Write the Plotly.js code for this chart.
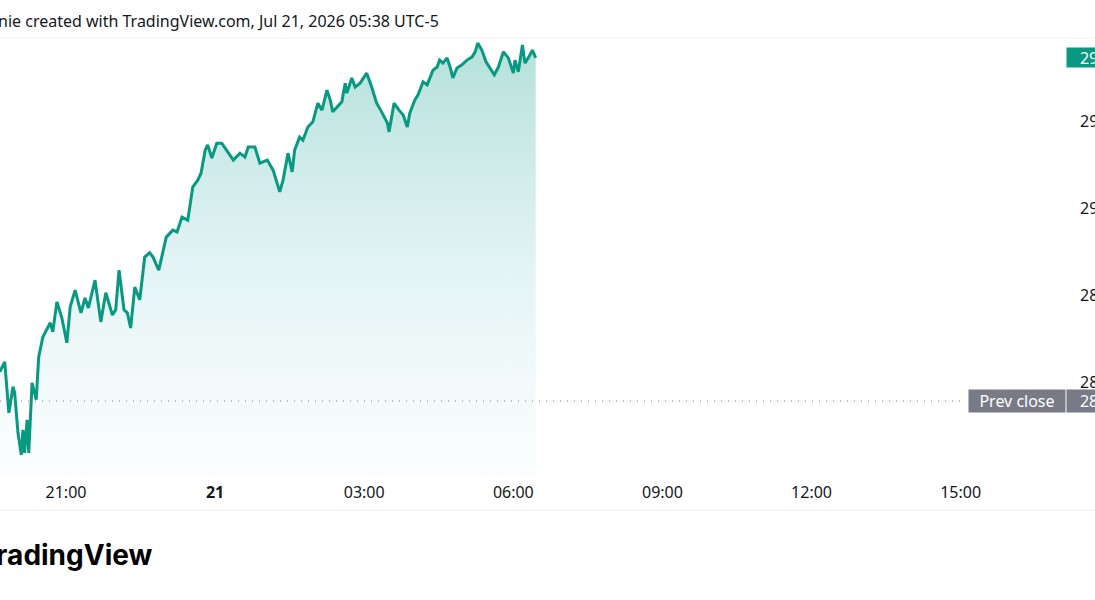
<!DOCTYPE html>
<html>
<head>
<meta charset="utf-8">
<script src="https://cdn.plot.ly/plotly-3.0.1.min.js"></script>
<style>
  html, body { margin: 0; padding: 0; background: #ffffff; overflow: hidden; width: 1095px; height: 600px; }
  #chart { position: absolute; left: -20px; top: 0; width: 1160px; height: 600px; }
</style>
</head>
<body>
<div id="chart"></div>
<script>
// ---- data ----
const times = [
  "2026-07-20 19:40","2026-07-20 19:46","2026-07-20 19:51","2026-07-20 19:56","2026-07-20 19:58",
  "2026-07-20 20:02","2026-07-20 20:06","2026-07-20 20:08","2026-07-20 20:10","2026-07-20 20:13",
  "2026-07-20 20:15","2026-07-20 20:19","2026-07-20 20:24","2026-07-20 20:27","2026-07-20 20:32",
  "2026-07-20 20:35","2026-07-20 20:41","2026-07-20 20:44","2026-07-20 20:49","2026-07-20 20:55",
  "2026-07-20 21:01","2026-07-20 21:05","2026-07-20 21:11","2026-07-20 21:18","2026-07-20 21:23",
  "2026-07-20 21:27","2026-07-20 21:35","2026-07-20 21:42","2026-07-20 21:48","2026-07-20 21:56",
  "2026-07-20 22:00","2026-07-20 22:04","2026-07-20 22:10","2026-07-20 22:14","2026-07-20 22:18",
  "2026-07-20 22:23","2026-07-20 22:29","2026-07-20 22:35","2026-07-20 22:41","2026-07-20 22:45",
  "2026-07-20 22:52","2026-07-20 23:01","2026-07-20 23:09","2026-07-20 23:14","2026-07-20 23:20",
  "2026-07-20 23:27","2026-07-20 23:33","2026-07-20 23:39","2026-07-20 23:43","2026-07-20 23:48",
  "2026-07-20 23:51","2026-07-20 23:56","2026-07-21 00:02","2026-07-21 00:08","2026-07-21 00:16",
  "2026-07-21 00:22","2026-07-21 00:30","2026-07-21 00:36","2026-07-21 00:40","2026-07-21 00:48",
  "2026-07-21 00:54","2026-07-21 01:03","2026-07-21 01:10","2026-07-21 01:18","2026-07-21 01:22",
  "2026-07-21 01:28","2026-07-21 01:33","2026-07-21 01:36","2026-07-21 01:42","2026-07-21 01:46",
  "2026-07-21 01:52","2026-07-21 01:58","2026-07-21 02:04","2026-07-21 02:09","2026-07-21 02:15",
  "2026-07-21 02:19","2026-07-21 02:22","2026-07-21 02:27","2026-07-21 02:33","2026-07-21 02:37",
  "2026-07-21 02:39","2026-07-21 02:45","2026-07-21 02:49","2026-07-21 02:55","2026-07-21 03:03",
  "2026-07-21 03:09","2026-07-21 03:15","2026-07-21 03:21","2026-07-21 03:28","2026-07-21 03:30",
  "2026-07-21 03:36","2026-07-21 03:42","2026-07-21 03:47","2026-07-21 03:52","2026-07-21 03:55",
  "2026-07-21 04:01","2026-07-21 04:05","2026-07-21 04:11","2026-07-21 04:16","2026-07-21 04:23",
  "2026-07-21 04:28","2026-07-21 04:31","2026-07-21 04:35","2026-07-21 04:40","2026-07-21 04:44",
  "2026-07-21 04:47","2026-07-21 04:52","2026-07-21 04:58","2026-07-21 05:04","2026-07-21 05:10",
  "2026-07-21 05:14","2026-07-21 05:17","2026-07-21 05:22","2026-07-21 05:27","2026-07-21 05:32",
  "2026-07-21 05:37","2026-07-21 05:42","2026-07-21 05:48","2026-07-21 05:54","2026-07-21 06:00",
  "2026-07-21 06:02","2026-07-21 06:06","2026-07-21 06:11","2026-07-21 06:14","2026-07-21 06:18",
  "2026-07-21 06:23","2026-07-21 06:27"
];
const prices = [
  28.623,28.646,28.529,28.589,28.575,
  28.483,28.432,28.490,28.437,28.513,
  28.437,28.598,28.559,28.657,28.703,
  28.715,28.736,28.715,28.784,28.747,
  28.690,28.772,28.811,28.759,28.793,
  28.770,28.834,28.738,28.805,28.754,
  28.766,28.857,28.766,28.759,28.724,
  28.818,28.789,28.887,28.897,28.887,
  28.857,28.933,28.949,28.945,28.979,
  28.972,29.048,29.064,29.080,29.133,
  29.145,29.115,29.149,29.149,29.126,
  29.110,29.126,29.117,29.140,29.140,
  29.103,29.110,29.087,29.037,29.064,
  29.126,29.083,29.133,29.163,29.156,
  29.186,29.198,29.241,29.225,29.271,
  29.248,29.221,29.232,29.244,29.287,
  29.264,29.299,29.278,29.287,29.310,
  29.278,29.241,29.221,29.195,29.175,
  29.241,29.225,29.214,29.186,29.218,
  29.248,29.260,29.290,29.283,29.317,
  29.324,29.340,29.333,29.345,29.322,
  29.299,29.322,29.329,29.340,29.347,
  29.359,29.379,29.363,29.336,29.322,
  29.306,29.324,29.359,29.345,29.310,
  29.340,29.313,29.375,29.333,29.345,
  29.363,29.345
];
const prevClose = 28.556;
const xTickVals = ["2026-07-20 21:00","2026-07-21 00:00","2026-07-21 03:00","2026-07-21 06:00","2026-07-21 09:00","2026-07-21 12:00","2026-07-21 15:00"];
const xTickText = ["21:00","<b>21</b>","03:00","06:00","09:00","12:00","15:00"];
const yTickVals = [28.6, 28.8, 29.0, 29.2];
const yTickText = ["28.60","28.80","29.00","29.20"];
const headerText = "nie created with TradingView.com, Jul 21, 2026 05:38 UTC-5";
const logoText = "TradingView";

// ---- styling ----
const GREEN = "#089981";
const GREY = "#787b86";
const TEXT = "#131722";
const FONT = "Noto Sans, DejaVu Sans, sans-serif";
const yRange = [28.386, 29.3885];
const lastPrice = prices[prices.length - 1];

const trace = {
  x: times, y: prices, type: "scatter", mode: "lines",
  line: { color: GREEN, width: 3, shape: "linear" },
  fill: "tozeroy",
  fillgradient: {
    type: "vertical",
    start: yRange[0], stop: 29.38,
    colorscale: [[0, "rgba(120,200,215,0.03)"], [0.5, "rgba(40,170,170,0.14)"], [1, "rgba(8,153,129,0.30)"]]
  },
  hoverinfo: "skip"
};

const layout = {
  width: 1160, height: 600,
  margin: { l: 20, r: 74, t: 39, b: 125, pad: 0 },
  paper_bgcolor: "#ffffff", plot_bgcolor: "#ffffff",
  showlegend: false,
  font: { family: FONT, size: 16, color: TEXT },
  xaxis: {
    type: "date",
    range: ["2026-07-20 19:40:18", "2026-07-21 17:07:12"],
    tickvals: xTickVals, ticktext: xTickText,
    showgrid: false, zeroline: false, showline: false, ticks: "",
    ticklabelstandoff: 6,
    tickfont: { family: FONT, size: 16, color: TEXT },
    fixedrange: true
  },
  yaxis: {
    side: "right",
    range: yRange,
    tickvals: yTickVals, ticktext: yTickText,
    showgrid: false, zeroline: false, showline: false, ticks: "",
    ticklabelstandoff: 13,
    tickfont: { family: FONT, size: 16, color: TEXT },
    fixedrange: true
  },
  shapes: [
    { type: "line", xref: "paper", yref: "paper", x0: -0.05, x1: 1.1, y0: 1.0023, y1: 1.0023,
      line: { color: "#eef0f3", width: 1 } },
    { type: "line", xref: "paper", yref: "paper", x0: -0.05, x1: 1.1, y0: -0.0803, y1: -0.0803,
      line: { color: "#f4f6fa", width: 2 } },
    { type: "line", xref: "paper", yref: "y", x0: 0, x1: 0.9053, y0: prevClose, y1: prevClose,
      line: { color: GREY, width: 1, dash: "1px,6px" } }
  ],
  annotations: [
    { text: headerText, xref: "paper", yref: "paper", x: -0.0035, y: 1.0413,
      xanchor: "left", yanchor: "middle", showarrow: false,
      font: { family: FONT, size: 16, color: TEXT } },
    { text: "<b>" + logoText + "</b>", xref: "paper", yref: "paper", x: -0.0215, y: -0.1835,
      xanchor: "left", yanchor: "middle", showarrow: false,
      font: { family: "Inter, Lato, sans-serif", size: 28, color: "#000000" } },
    { text: lastPrice.toFixed(3), xref: "paper", yref: "y", x: 1, y: lastPrice,
      xanchor: "left", yanchor: "middle", showarrow: false, align: "center",
      width: 74, height: 17, borderpad: 1, bgcolor: GREEN,
      font: { family: FONT, size: 16, color: "#ffffff" } },
    { text: "Prev close", xref: "paper", yref: "y", x: 0.9081, y: prevClose,
      xanchor: "left", yanchor: "middle", showarrow: false, align: "center",
      width: 94, height: 20, borderpad: 1, bgcolor: GREY,
      font: { family: FONT, size: 16, color: "#ffffff" } },
    { text: prevClose.toFixed(3), xref: "paper", yref: "y", x: 1, y: prevClose,
      xanchor: "left", yanchor: "middle", showarrow: false, align: "center",
      width: 74, height: 20, borderpad: 1, bgcolor: GREY,
      font: { family: FONT, size: 16, color: "#ffffff" } }
  ]
};

Plotly.newPlot("chart", [trace], layout, { displayModeBar: false, staticPlot: true });
</script>
</body>
</html>
